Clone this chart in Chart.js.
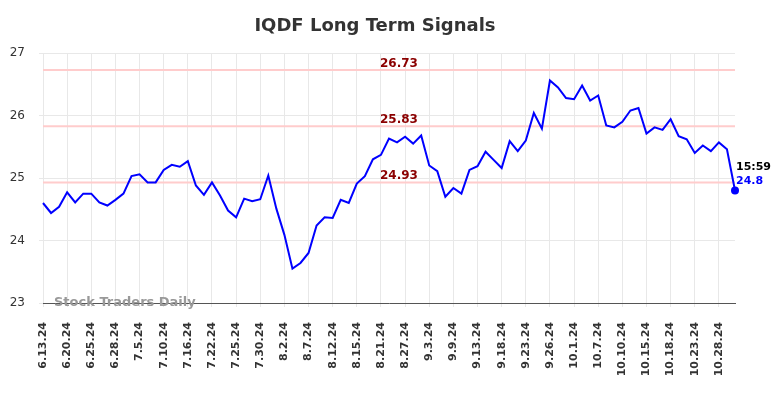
<!DOCTYPE html>
<html>
<head>
<meta charset="utf-8">
<script src="https://cdn.jsdelivr.net/npm/chart.js@4"></script>
<style>
  body { margin: 0; background: #fff; }
  #wrap { width: 784px; height: 398px; }
</style>
</head>
<body>
<div id="wrap"><canvas id="grafik_sinyal"></canvas></div>
<script>
var dates = ['6.13.24','6.14.24','6.18.24','6.20.24','6.21.24','6.24.24','6.25.24','6.26.24','6.27.24','6.28.24',
    '7.1.24','7.3.24','7.5.24','7.8.24','7.9.24','7.10.24','7.11.24','7.15.24','7.16.24','7.17.24',
    '7.19.24','7.22.24','7.23.24','7.24.24','7.25.24','7.26.24','7.29.24','7.30.24','7.31.24','8.1.24',
    '8.2.24','8.5.24','8.6.24','8.7.24','8.8.24','8.9.24','8.12.24','8.13.24','8.14.24','8.15.24',
    '8.16.24','8.20.24','8.21.24','8.22.24','8.26.24','8.27.24','8.28.24','8.30.24','9.3.24','9.4.24',
    '9.6.24','9.9.24','9.10.24','9.12.24','9.13.24','9.16.24','9.17.24','9.18.24','9.19.24','9.20.24',
    '9.23.24','9.24.24','9.25.24','9.26.24','9.27.24','9.30.24','10.1.24','10.2.24','10.4.24','10.7.24',
    '10.8.24','10.9.24','10.10.24','10.11.24','10.14.24','10.15.24','10.16.24','10.17.24','10.18.24','10.21.24',
    '10.22.24','10.23.24','10.24.24','10.25.24','10.28.24','10.29.24','10.30.24'];

var harga = [24.60, 24.44, 24.54, 24.77, 24.61, 24.75, 24.75, 24.61, 24.56, 24.65,
    24.75, 25.03, 25.06, 24.93, 24.93, 25.13, 25.21, 25.18, 25.27, 24.88,
    24.73, 24.93, 24.72, 24.48, 24.37, 24.67, 24.63, 24.66, 25.04, 24.51,
    24.09, 23.55, 23.64, 23.80, 24.24, 24.37, 24.36, 24.65, 24.60, 24.91,
    25.03, 25.30, 25.37, 25.63, 25.57, 25.66, 25.55, 25.68, 25.20, 25.11,
    24.70, 24.84, 24.75, 25.13, 25.19, 25.42, 25.29, 25.16, 25.59, 25.43,
    25.60, 26.04, 25.79, 26.56, 26.45, 26.28, 26.26, 26.48, 26.24, 26.32,
    25.84, 25.81, 25.90, 26.08, 26.12, 25.71, 25.81, 25.77, 25.94, 25.67,
    25.62, 25.40, 25.52, 25.43, 25.57, 25.46, 24.80];

var level = [26.73, 25.83, 24.93];
var yTicks = [23, 24, 25, 26, 27];
var judul = 'IQDF Long Term Signals';
var lastTime = '15:59';
var lastPrice = '24.8';

var lastIdx = harga.length - 1;

var levelSets = level.map(function (v) {
    return {
        data: dates.map(function () { return v; }),
        borderColor: '#ffcccc',
        borderWidth: 2,
        pointRadius: 0,
        order: 2
    };
});

var extraText = {
    id: 'extraText',
    afterDatasetsDraw: function (chart) {
        var c = chart.ctx, x = chart.scales.x, y = chart.scales.y, area = chart.chartArea;
        c.save();
        // title
        c.font = 'bold 18px "DejaVu Sans"';
        c.fillStyle = '#333';
        c.textAlign = 'center';
        c.textBaseline = 'middle';
        c.fillText(judul, 375, 26);
        // level labels
        c.font = 'bold 12px "DejaVu Sans"';
        c.fillStyle = '#8b0000';
        c.textAlign = 'left';
        c.textBaseline = 'alphabetic';
        level.forEach(function (v) {
            c.fillText(v.toFixed(2), x.getPixelForValue(42) - 1, y.getPixelForValue(v) - 3);
        });
        // last price
        var px = x.getPixelForValue(lastIdx), py = y.getPixelForValue(harga[lastIdx]);
        c.font = 'bold 11px "DejaVu Sans"';
        c.textBaseline = 'middle';
        c.fillStyle = '#000';
        c.fillText(lastTime, px + 1, py - 23);
        c.fillStyle = '#0000ff';
        c.fillText(lastPrice, px + 1, py - 9);
        // watermark
        c.font = 'bold 13px "DejaVu Sans"';
        c.fillStyle = '#999';
        c.fillText('Stock Traders Daily', area.left + 11, area.bottom);
        c.restore();
    }
};

const ctx = document.getElementById('grafik_sinyal');
new Chart(ctx, {
    type: 'line',
    data: {
        labels: dates,
        datasets: [{
            data: harga,
            borderColor: '#0000ff',
            backgroundColor: '#0000ff',
            borderWidth: 2,
            tension: 0,
            pointRadius: function (c) { return c.dataIndex === lastIdx ? 4 : 0; },
            pointBorderWidth: 0,
            order: 1
        }].concat(levelSets)
    },
    options: {
        responsive: true,
        maintainAspectRatio: false,
        animation: false,
        layout: { padding: { top: 53, left: 0, right: 49, bottom: 0 } },
        plugins: {
            legend: { display: false },
            tooltip: { enabled: false },
            title: { display: false }
        },
        scales: {
            x: {
                afterFit: function (s) { s.height = 95; },
                grid: { color: '#e8e8e8', tickLength: 4 },
                border: { color: '#555', width: 1 },
                ticks: {
                    autoSkip: false,
                    maxRotation: 90,
                    minRotation: 90,
                    padding: 15,
                    color: '#333',
                    font: { family: 'DejaVu Sans', size: 11, weight: 'bold' },
                    callback: function (val, i) { return i % 3 === 0 ? dates[i] : null; }
                }
            },
            y: {
                min: 23,
                max: 27,
                afterBuildTicks: function (s) { s.ticks = yTicks.map(function (v) { return { value: v }; }); },
                afterFit: function (s) { s.width = 43; },
                grid: { color: '#e8e8e8', tickLength: 4 },
                border: { display: false },
                ticks: {
                    padding: 14,
                    color: '#333',
                    font: { family: 'DejaVu Sans', size: 12 }
                }
            }
        }
    },
    plugins: [extraText]
});
</script>
</body>
</html>
